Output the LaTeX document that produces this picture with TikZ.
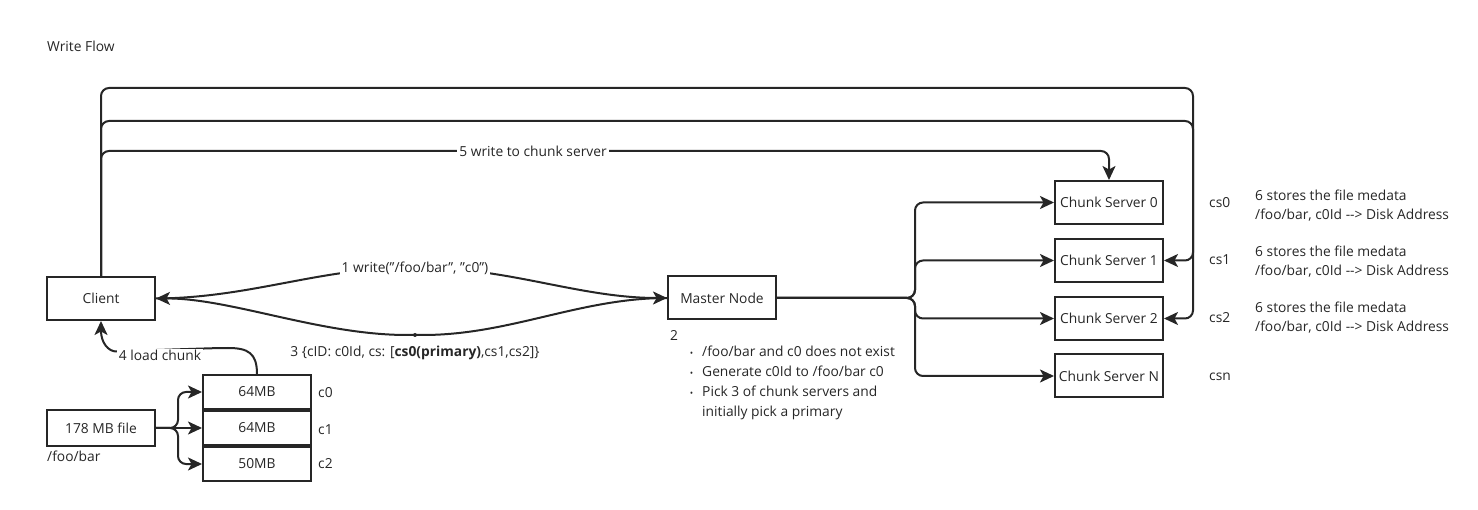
\documentclass[tikz,border=0pt]{standalone}
\usepackage{fontspec}
\setmainfont{Open Sans}
\usetikzlibrary{arrows.meta}
\definecolor{ink}{HTML}{262626}
\newcommand{\dq}{{\char34}}
\begin{document}
\begin{tikzpicture}[x=1pt,y=-1pt,
  txt/.style={font=\fontsize{13.8}{16}\selectfont, text=ink, inner sep=0pt},
  box/.style={txt, draw=ink, line width=2pt, minimum width=108pt, minimum height=43pt},
  chunkbox/.style={box, minimum height=34pt},
  conn/.style={draw=ink, line width=2pt, rounded corners=8pt},
  arr/.style={-{Stealth[length=14pt,width=13pt,inset=3.5pt]}},
  lbl/.style={txt, fill=white, inner xsep=2pt, inner ysep=1pt}]
\useasboundingbox (0,0) rectangle (1478,510);

% title
\node[txt, anchor=west] (title) at (47,46) {Write Flow};

% main boxes
\node[box] (client) at (101,298.5) {Client};
\node[box] (master) at (722,298) {Master Node};
\node[box] (cs0) at (1109,202.5) {Chunk Server 0};
\node[box] (cs1) at (1109,260.5) {Chunk Server 1};
\node[box] (cs2) at (1109,318.5) {Chunk Server 2};
\node[box] (csN) at (1109,376) {Chunk Server N};

% file and its chunks
\node[box, minimum height=35pt] (file) at (101,428) {178 MB file};
\node[txt, anchor=west] (path) at (47,456) {/foo/bar};
\node[chunkbox] (ch0) at (257,392) {64MB};
\node[chunkbox] (ch1) at (257,428) {64MB};
\node[chunkbox] (ch2) at (257,464) {50MB};
\node[txt, anchor=west] (c0) at (318,393) {c0};
\node[txt, anchor=west] (c1) at (318,430) {c1};
\node[txt, anchor=west] (c2) at (318,464) {c2};

% chunk server tags and notes
\node[txt, anchor=west] (t0) at (1209,203) {cs0};
\node[txt, anchor=west] (t1) at (1209,260) {cs1};
\node[txt, anchor=west] (t2) at (1209,318) {cs2};
\node[txt, anchor=west] (tN) at (1209,377) {csn};
\foreach \y/\n in {205.5/n0, 261.5/n1, 317.5/n2}
  \node[txt, anchor=west, align=left, font=\fontsize{13.8}{19.5}\selectfont] (\n) at (1255,\y)
    {6 stores the file medata\\/foo/bar, c0Id -{}-> Disk Address};

% master node notes
\node[txt, anchor=west] (two) at (670,336) {2};
\node[txt, anchor=north west, align=left, font=\fontsize{13.8}{20}\selectfont] (steps) at (702,346)
  {\llap{{\fontsize{9}{9}\selectfont •}\hspace{9pt}}/foo/bar and c0 does not exist\\
   \llap{{\fontsize{9}{9}\selectfont •}\hspace{9pt}}Generate c0Id to /foo/bar c0\\
   \llap{{\fontsize{9}{9}\selectfont •}\hspace{9pt}}Pick 3 of chunk servers and\\
   initially pick a primary};

% file split into chunks
\draw[conn, arr] (file.east) -- (178,428) |- (ch0.west);
\draw[conn, arr] (file.east) -- (ch1.west);
\draw[conn, arr] (file.east) -- (178,428) |- (ch2.west);

% 4 load chunk
\draw[conn, arr] (ch0.north) .. controls (257,353) and (248,348) .. (220,348)
  -- (125,351) .. controls (108,352) and (101,342) .. (client.south);
\node[lbl] (l4) at (160,355) {4 load chunk};

% 1 write request
\draw[conn, arr] (client.east) .. controls (250,298) and (320,268) .. (415,268)
  .. controls (510,268) and (580,298) .. (master.west);
\node[lbl] (l1) at (415,268) {1 write(\dq/foo/bar\dq, \dq c0\dq)};

% 3 reply with chunk servers
\draw[conn, arr] (master.west) .. controls (580,298) and (510,335) .. (415,335)
  .. controls (320,335) and (230,298) .. (client.east);
\fill[ink] (415,335) circle (2pt);
\node[txt] (l3) at (415,353) {3 \{cID: c0Id, cs: [\textbf{cs0(primary)},cs1,cs2]\}};

% master assigns chunk servers
\foreach \s in {cs0,cs1,cs2,csN}
  \draw[conn, arr] (master.east) -- (915,298) |- (\s.west);

% 5 write to chunk server, and replication loops
\draw[conn, arr] (client.north) -- (101,88) -- (1193,88) |- (cs2.east);
\draw[conn, arr] (client.north) -- (101,121) -- (1193,121) |- (cs1.east);
\draw[conn, arr] (client.north) -- (101,151) -| (cs0.north);
\node[lbl] (l5) at (533,151) {5 write to chunk server};
\end{tikzpicture}
\end{document}
